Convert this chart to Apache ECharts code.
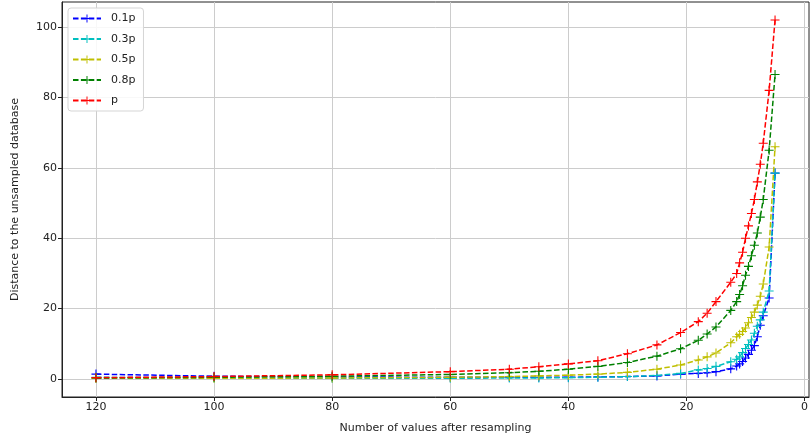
<!DOCTYPE html>
<html>
<head>
<meta charset="utf-8">
<script src="https://cdn.jsdelivr.net/npm/echarts@6/dist/echarts.min.js"></script>
<style>
html,body{margin:0;padding:0;background:#fff;}
#chart{width:810px;height:441px;}
</style>
</head>
<body>
<div id="chart"></div>
<script>
// Number of values after resampling (shared x values)
var xValues = [120, 100, 80, 60, 50, 45, 40, 35, 30, 25, 21, 18, 16.5, 15, 12.5, 11.5, 11, 10.5, 10, 9.5, 9, 8.5, 8, 7.5, 7, 6, 5];

var seriesNames = ['0.1p', '0.3p', '0.5p', '0.8p', 'p'];

var values01p = [1.4, 0.8, 0.6, 0.5, 0.5, 0.5, 0.5, 0.6, 0.7, 0.9, 1.4, 1.6, 1.8, 2.1, 2.9, 3.7, 4.3, 5.0, 6.0, 7.0, 8.2, 9.5, 12, 15.3, 18, 23, 58.5];
var values03p = [0.5, 0.3, 0.2, 0.2, 0.3, 0.3, 0.4, 0.5, 0.7, 1.0, 1.6, 2.6, 3.0, 3.6, 4.9, 5.6, 6.3, 7.5, 8.7, 9.8, 11.1, 13, 15, 16.8, 19, 25, 58.5];
var values05p = [0.2, 0.2, 0.3, 0.5, 0.7, 0.9, 1.1, 1.4, 1.9, 2.8, 4.0, 5.4, 6.3, 7.4, 10.3, 12, 12.7, 13.5, 14.5, 16, 17.5, 19, 21, 23.5, 27, 37.5, 66];
var values08p = [0.3, 0.5, 0.8, 1.3, 1.8, 2.2, 2.8, 3.6, 4.7, 6.5, 8.6, 11, 12.8, 14.8, 19.5, 22, 24, 26.5, 29.5, 32, 35, 38, 41.5, 46, 51, 65, 86.5];
var valuesP   = [0.4, 0.7, 1.2, 2.1, 2.8, 3.5, 4.3, 5.2, 7.2, 9.7, 13.2, 16.3, 18.7, 22, 27.5, 30, 33, 36, 40, 43.5, 47, 51, 56, 61, 67, 82, 102];

var xTicks = [0, 20, 40, 60, 80, 100, 120];
var yTicks = [0, 20, 40, 60, 80, 100];

var colors = ['#0000ff', '#00bfbf', '#bfbf00', '#008000', '#ff0000'];
var allValues = [values01p, values03p, values05p, values08p, valuesP];

var plusSymbol = 'path://M4.4,0h1.2v4.4h4.4v1.2h-4.4v4.4h-1.2v-4.4h-4.4v-1.2h4.4z';
var font = 'DejaVu Sans';

var series = seriesNames.map(function (name, i) {
  return {
    name: name,
    type: 'line',
    data: xValues.map(function (x, j) { return [x, allValues[i][j]]; }),
    symbol: plusSymbol,
    symbolSize: 9,
    showAllSymbol: true,
    color: colors[i],
    lineStyle: { type: [5.5, 2.4], width: 1.5, color: colors[i] },
    itemStyle: { color: colors[i] },
    animation: false,
    z: 3 + i
  };
});

var chart = echarts.init(document.getElementById('chart'));
chart.setOption({
  animation: false,
  backgroundColor: '#fff',
  grid: { left: 62, right: 1, top: 2, bottom: 44, show: true, borderColor: '#222', borderWidth: 1, containLabel: false, outerBoundsMode: 'none' },
  legend: {
    orient: 'vertical',
    left: 68, top: 8,
    data: seriesNames,
    itemWidth: 28, itemHeight: 10, itemGap: 9.5,
    backgroundColor: 'rgba(255,255,255,0.85)',
    borderColor: '#d5d5d5', borderWidth: 1, borderRadius: 3,
    padding: [5, 8, 5, 4],
    textStyle: { fontFamily: font, fontSize: 11, color: '#222', padding: [0, 0, 0, 5] }
  },
  xAxis: {
    type: 'value',
    inverse: true,
    min: -0.75, max: 125.75,
    name: 'Number of values after resampling',
    nameLocation: 'middle', nameGap: 26,
    nameTextStyle: { fontFamily: font, fontSize: 11, color: '#222' },
    axisLine: { show: true, onZero: false, lineStyle: { color: '#222', width: 1 } },
    axisTick: { show: true, length: 4, lineStyle: { color: '#222' }, customValues: xTicks },
    axisLabel: { fontFamily: font, fontSize: 11, color: '#222', margin: 5, customValues: xTicks },
    splitLine: { show: true, lineStyle: { color: '#cccccc', width: 1 } }
  },
  yAxis: {
    type: 'value',
    min: -5.1, max: 107.1,
    name: 'Distance to the unsampled database',
    nameLocation: 'middle', nameGap: 41, nameRotate: 90,
    nameTextStyle: { fontFamily: font, fontSize: 11, color: '#222' },
    axisLine: { show: true, onZero: false, lineStyle: { color: '#222', width: 1 } },
    axisTick: { show: true, length: 4, lineStyle: { color: '#222' }, customValues: yTicks },
    axisLabel: { fontFamily: font, fontSize: 11, color: '#222', margin: 5, customValues: yTicks },
    splitLine: { show: true, lineStyle: { color: '#cccccc', width: 1 } }
  },
  series: series
});
</script>
</body>
</html>
